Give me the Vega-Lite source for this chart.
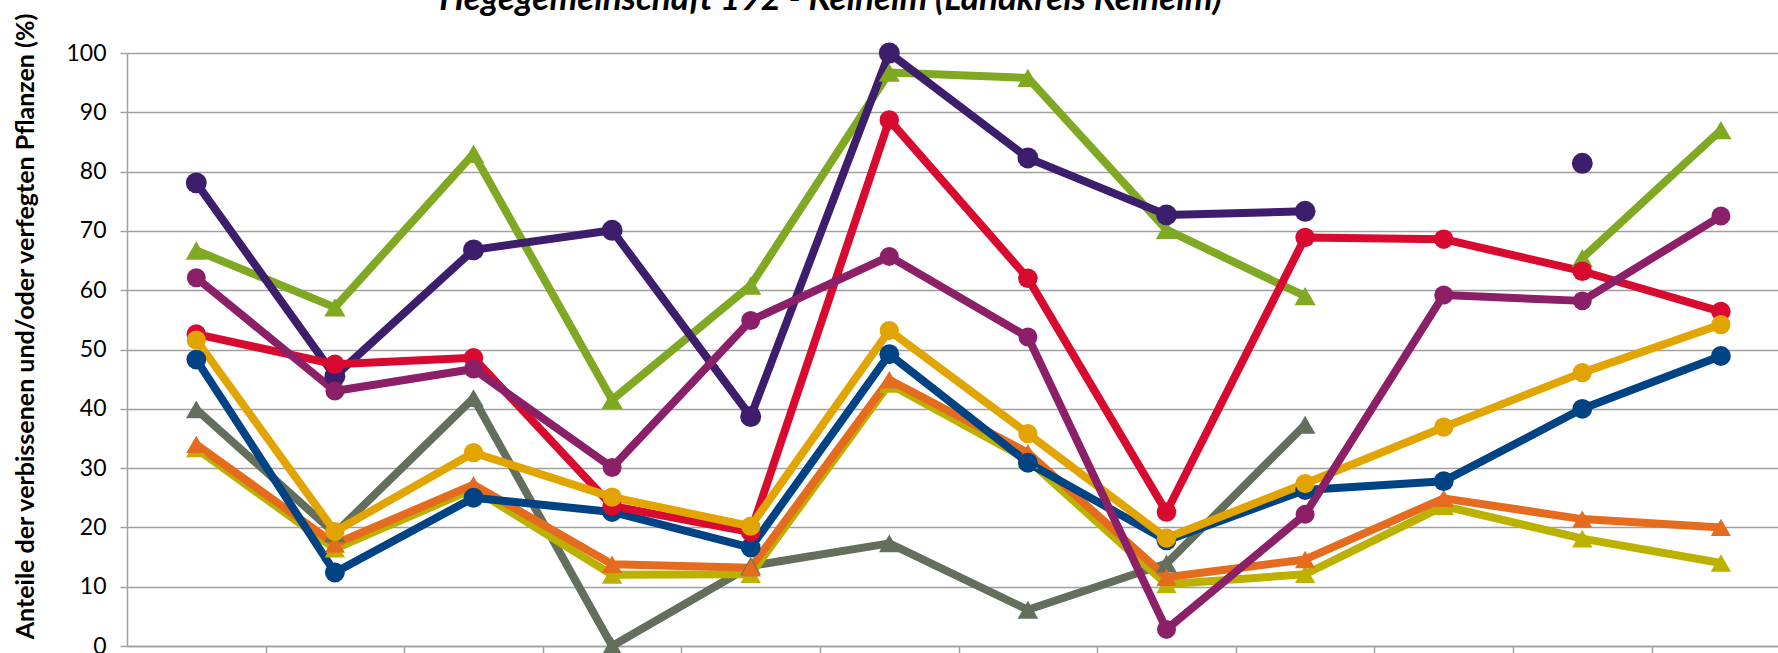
{
  "$schema": "https://vega.github.io/schema/vega-lite/v6.json",
  "width": 1651,
  "height": 593,
  "autosize": {"type": "none"},
  "padding": {"left": 127, "top": 53, "right": 0, "bottom": 7},
  "background": "white",
  "config": {"view": {"stroke": null}, "font": "Lato"},
  "title": {
    "text": "Hegegemeinschaft 192 - Kelheim (Landkreis Kelheim)",
    "font": "Lato",
    "fontSize": 35,
    "fontWeight": "bold",
    "fontStyle": "italic",
    "color": "#000000",
    "anchor": "middle",
    "frame": "group",
    "baseline": "alphabetic",
    "offset": 0,
    "dy": 33,
    "dx": -122
  },
  "datasets": {
    "werte": [
      {"Baumart": "Edellaubholz", "Jahr": 1991, "Anteil": 66.7},
      {"Baumart": "Edellaubholz", "Jahr": 1994, "Anteil": 57.1},
      {"Baumart": "Edellaubholz", "Jahr": 1997, "Anteil": 83.0},
      {"Baumart": "Edellaubholz", "Jahr": 2000, "Anteil": 41.5},
      {"Baumart": "Edellaubholz", "Jahr": 2003, "Anteil": 60.8},
      {"Baumart": "Edellaubholz", "Jahr": 2006, "Anteil": 96.7},
      {"Baumart": "Edellaubholz", "Jahr": 2009, "Anteil": 95.8},
      {"Baumart": "Edellaubholz", "Jahr": 2012, "Anteil": 70.2},
      {"Baumart": "Edellaubholz", "Jahr": 2015, "Anteil": 59.0},
      {"Baumart": "Edellaubholz", "Jahr": 2018, "Anteil": null},
      {"Baumart": "Edellaubholz", "Jahr": 2021, "Anteil": 65.4},
      {"Baumart": "Edellaubholz", "Jahr": 2024, "Anteil": 87.0},
      {"Baumart": "Tanne", "Jahr": 1991, "Anteil": 78.1},
      {"Baumart": "Tanne", "Jahr": 1994, "Anteil": 45.5},
      {"Baumart": "Tanne", "Jahr": 1997, "Anteil": 66.8},
      {"Baumart": "Tanne", "Jahr": 2000, "Anteil": 70.1},
      {"Baumart": "Tanne", "Jahr": 2003, "Anteil": 38.7},
      {"Baumart": "Tanne", "Jahr": 2006, "Anteil": 100.0},
      {"Baumart": "Tanne", "Jahr": 2009, "Anteil": 82.3},
      {"Baumart": "Tanne", "Jahr": 2012, "Anteil": 72.7},
      {"Baumart": "Tanne", "Jahr": 2015, "Anteil": 73.3},
      {"Baumart": "Tanne", "Jahr": 2018, "Anteil": null},
      {"Baumart": "Tanne", "Jahr": 2021, "Anteil": 81.4},
      {"Baumart": "Tanne", "Jahr": 2024, "Anteil": null},
      {"Baumart": "Kiefer", "Jahr": 1991, "Anteil": 39.9},
      {"Baumart": "Kiefer", "Jahr": 1994, "Anteil": 19.0},
      {"Baumart": "Kiefer", "Jahr": 1997, "Anteil": 41.8},
      {"Baumart": "Kiefer", "Jahr": 2000, "Anteil": 0.0},
      {"Baumart": "Kiefer", "Jahr": 2003, "Anteil": 13.5},
      {"Baumart": "Kiefer", "Jahr": 2006, "Anteil": 17.3},
      {"Baumart": "Kiefer", "Jahr": 2009, "Anteil": 6.1},
      {"Baumart": "Kiefer", "Jahr": 2012, "Anteil": 13.9},
      {"Baumart": "Kiefer", "Jahr": 2015, "Anteil": 37.3},
      {"Baumart": "Kiefer", "Jahr": 2018, "Anteil": null},
      {"Baumart": "Kiefer", "Jahr": 2021, "Anteil": null},
      {"Baumart": "Kiefer", "Jahr": 2024, "Anteil": null},
      {"Baumart": "Laubholz gesamt", "Jahr": 1991, "Anteil": 33.3},
      {"Baumart": "Laubholz gesamt", "Jahr": 1994, "Anteil": 16.4},
      {"Baumart": "Laubholz gesamt", "Jahr": 1997, "Anteil": 26.5},
      {"Baumart": "Laubholz gesamt", "Jahr": 2000, "Anteil": 12.0},
      {"Baumart": "Laubholz gesamt", "Jahr": 2003, "Anteil": 12.1},
      {"Baumart": "Laubholz gesamt", "Jahr": 2006, "Anteil": 44.2},
      {"Baumart": "Laubholz gesamt", "Jahr": 2009, "Anteil": 31.4},
      {"Baumart": "Laubholz gesamt", "Jahr": 2012, "Anteil": 10.4},
      {"Baumart": "Laubholz gesamt", "Jahr": 2015, "Anteil": 12.1},
      {"Baumart": "Laubholz gesamt", "Jahr": 2018, "Anteil": 23.6},
      {"Baumart": "Laubholz gesamt", "Jahr": 2021, "Anteil": 18.1},
      {"Baumart": "Laubholz gesamt", "Jahr": 2024, "Anteil": 14.0},
      {"Baumart": "Alle Baumarten", "Jahr": 1991, "Anteil": 34.0},
      {"Baumart": "Alle Baumarten", "Jahr": 1994, "Anteil": 17.2},
      {"Baumart": "Alle Baumarten", "Jahr": 1997, "Anteil": 27.2},
      {"Baumart": "Alle Baumarten", "Jahr": 2000, "Anteil": 13.8},
      {"Baumart": "Alle Baumarten", "Jahr": 2003, "Anteil": 13.2},
      {"Baumart": "Alle Baumarten", "Jahr": 2006, "Anteil": 44.9},
      {"Baumart": "Alle Baumarten", "Jahr": 2009, "Anteil": 32.6},
      {"Baumart": "Alle Baumarten", "Jahr": 2012, "Anteil": 11.6},
      {"Baumart": "Alle Baumarten", "Jahr": 2015, "Anteil": 14.6},
      {"Baumart": "Alle Baumarten", "Jahr": 2018, "Anteil": 24.9},
      {"Baumart": "Alle Baumarten", "Jahr": 2021, "Anteil": 21.4},
      {"Baumart": "Alle Baumarten", "Jahr": 2024, "Anteil": 20.0},
      {"Baumart": "Fichte", "Jahr": 1991, "Anteil": 48.3},
      {"Baumart": "Fichte", "Jahr": 1994, "Anteil": 12.4},
      {"Baumart": "Fichte", "Jahr": 1997, "Anteil": 25.0},
      {"Baumart": "Fichte", "Jahr": 2000, "Anteil": 22.6},
      {"Baumart": "Fichte", "Jahr": 2003, "Anteil": 16.6},
      {"Baumart": "Fichte", "Jahr": 2006, "Anteil": 49.2},
      {"Baumart": "Fichte", "Jahr": 2009, "Anteil": 30.9},
      {"Baumart": "Fichte", "Jahr": 2012, "Anteil": 17.8},
      {"Baumart": "Fichte", "Jahr": 2015, "Anteil": 26.3},
      {"Baumart": "Fichte", "Jahr": 2018, "Anteil": 27.8},
      {"Baumart": "Fichte", "Jahr": 2021, "Anteil": 40.0},
      {"Baumart": "Fichte", "Jahr": 2024, "Anteil": 48.9},
      {"Baumart": "Eiche", "Jahr": 1991, "Anteil": 52.6},
      {"Baumart": "Eiche", "Jahr": 1994, "Anteil": 47.5},
      {"Baumart": "Eiche", "Jahr": 1997, "Anteil": 48.6},
      {"Baumart": "Eiche", "Jahr": 2000, "Anteil": 23.6},
      {"Baumart": "Eiche", "Jahr": 2003, "Anteil": 19.2},
      {"Baumart": "Eiche", "Jahr": 2006, "Anteil": 88.7},
      {"Baumart": "Eiche", "Jahr": 2009, "Anteil": 62.0},
      {"Baumart": "Eiche", "Jahr": 2012, "Anteil": 22.6},
      {"Baumart": "Eiche", "Jahr": 2015, "Anteil": 68.9},
      {"Baumart": "Eiche", "Jahr": 2018, "Anteil": 68.6},
      {"Baumart": "Eiche", "Jahr": 2021, "Anteil": 63.2},
      {"Baumart": "Eiche", "Jahr": 2024, "Anteil": 56.4},
      {"Baumart": "Buche", "Jahr": 1991, "Anteil": 51.6},
      {"Baumart": "Buche", "Jahr": 1994, "Anteil": 19.3},
      {"Baumart": "Buche", "Jahr": 1997, "Anteil": 32.6},
      {"Baumart": "Buche", "Jahr": 2000, "Anteil": 25.1},
      {"Baumart": "Buche", "Jahr": 2003, "Anteil": 20.2},
      {"Baumart": "Buche", "Jahr": 2006, "Anteil": 53.2},
      {"Baumart": "Buche", "Jahr": 2009, "Anteil": 35.8},
      {"Baumart": "Buche", "Jahr": 2012, "Anteil": 18.2},
      {"Baumart": "Buche", "Jahr": 2015, "Anteil": 27.4},
      {"Baumart": "Buche", "Jahr": 2018, "Anteil": 36.9},
      {"Baumart": "Buche", "Jahr": 2021, "Anteil": 46.1},
      {"Baumart": "Buche", "Jahr": 2024, "Anteil": 54.2},
      {"Baumart": "Sonstiges Laubholz", "Jahr": 1991, "Anteil": 62.1},
      {"Baumart": "Sonstiges Laubholz", "Jahr": 1994, "Anteil": 43.0},
      {"Baumart": "Sonstiges Laubholz", "Jahr": 1997, "Anteil": 46.7},
      {"Baumart": "Sonstiges Laubholz", "Jahr": 2000, "Anteil": 30.1},
      {"Baumart": "Sonstiges Laubholz", "Jahr": 2003, "Anteil": 54.9},
      {"Baumart": "Sonstiges Laubholz", "Jahr": 2006, "Anteil": 65.7},
      {"Baumart": "Sonstiges Laubholz", "Jahr": 2009, "Anteil": 52.1},
      {"Baumart": "Sonstiges Laubholz", "Jahr": 2012, "Anteil": 2.8},
      {"Baumart": "Sonstiges Laubholz", "Jahr": 2015, "Anteil": 22.2},
      {"Baumart": "Sonstiges Laubholz", "Jahr": 2018, "Anteil": 59.2},
      {"Baumart": "Sonstiges Laubholz", "Jahr": 2021, "Anteil": 58.2},
      {"Baumart": "Sonstiges Laubholz", "Jahr": 2024, "Anteil": 72.5}
    ]
  },
  "data": {"name": "werte"},
  "encoding": {
    "x": {
      "field": "Jahr",
      "type": "quantitative",
      "scale": {"domain": [1989.5, 2025.236], "nice": false, "zero": false},
      "axis": {
        "values": [1992.5, 1995.5, 1998.5, 2001.5, 2004.5, 2007.5, 2010.5, 2013.5, 2016.5, 2019.5, 2022.5],
        "labels": false,
        "title": null,
        "grid": false,
        "domainColor": "#a0a0a0",
        "domainWidth": 1.5,
        "tickColor": "#a0a0a0",
        "tickWidth": 1.5,
        "tickSize": 7
      }
    },
    "y": {
      "field": "Anteil",
      "type": "quantitative",
      "scale": {"domain": [0, 100], "nice": false},
      "axis": {
        "values": [0, 10, 20, 30, 40, 50, 60, 70, 80, 90, 100],
        "title": "Anteile der verbissenen und/oder verfegten Pflanzen (%)",
        "titleFont": "Lato",
        "titleFontSize": 25,
        "titleFontWeight": "bold",
        "titleColor": "#000000",
        "titleAngle": -90,
        "titleAlign": "center",
        "titleBaseline": "middle",
        "titleX": -102,
        "titleY": 273,
        "labelFont": "Lato",
        "labelFontSize": 23,
        "labelColor": "#000000",
        "labelPadding": 14,
        "grid": true,
        "gridColor": "#a0a0a0",
        "gridWidth": 1.5,
        "domainColor": "#a0a0a0",
        "domainWidth": 1.5,
        "tickColor": "#a0a0a0",
        "tickWidth": 1.5,
        "tickSize": 7
      }
    },
    "color": {
      "field": "Baumart",
      "type": "nominal",
      "scale": {
        "domain": ["Edellaubholz", "Tanne", "Kiefer", "Laubholz gesamt", "Alle Baumarten", "Fichte", "Eiche", "Buche", "Sonstiges Laubholz"],
        "range": ["#7fa823", "#3d1e6d", "#636f5c", "#bdb100", "#e56b1f", "#004385", "#d90a2f", "#e2a400", "#8c2068"]
      },
      "legend": null
    }
  },
  "layer": [
    {
      "mark": {"type": "line", "invalid": "break-paths-show-domains", "strokeWidth": 8, "strokeCap": "butt", "strokeJoin": "round"}
    },
    {
      "mark": {"type": "point", "filled": true, "opacity": 1, "strokeWidth": 0},
      "encoding": {
        "shape": {
          "field": "Baumart",
          "type": "nominal",
          "scale": {
            "domain": ["Edellaubholz", "Tanne", "Kiefer", "Laubholz gesamt", "Alle Baumarten", "Fichte", "Eiche", "Buche", "Sonstiges Laubholz"],
            "range": ["triangle-up", "circle", "triangle-up", "triangle-up", "triangle-up", "circle", "circle", "circle", "circle"]
          },
          "legend": null
        },
        "size": {
          "field": "Baumart",
          "type": "nominal",
          "scale": {
            "domain": ["Edellaubholz", "Tanne", "Kiefer", "Laubholz gesamt", "Alle Baumarten", "Fichte", "Eiche", "Buche", "Sonstiges Laubholz"],
            "range": [450, 360, 450, 450, 450, 360, 360, 360, 360]
          },
          "legend": null
        }
      }
    }
  ]
}
